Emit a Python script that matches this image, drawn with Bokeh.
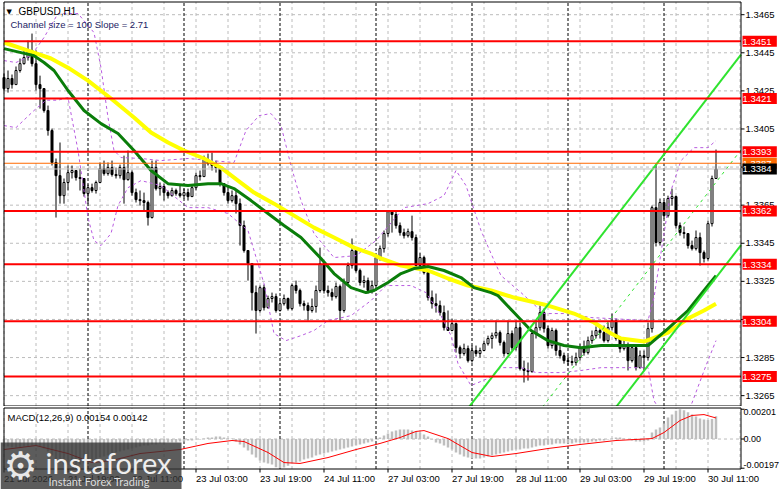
from bokeh.plotting import figure
from bokeh.models import Range1d, Label, BoxAnnotation, ColumnDataSource
from bokeh.layouts import column
from bokeh.core.properties import value
from bokeh.embed import file_html
from bokeh.resources import INLINE

# ---------------- data ----------------
symbol_title = "GBPUSD,H1"
channel_text = "Channel size = 100 Slope = 2.71"
macd_text = "MACD(12,26,9) 0.00154 0.00142"

first_open = 1.34320
closes = [
    1.34262, 1.34315, 1.34283, 1.34357, 1.34393, 1.34425, 1.34462, 1.34393, 1.34283, 1.34262,
    1.34147, 1.34042, 1.33874, 1.33805, 1.33700, 1.33769, 1.33821, 1.33832, 1.33795, 1.33790,
    1.33711, 1.33742, 1.33727, 1.33769, 1.33842, 1.33816, 1.33847, 1.33811, 1.33805, 1.33847,
    1.33784, 1.33821, 1.33716, 1.33679, 1.33674, 1.33664, 1.33585, 1.33847, 1.33737, 1.33748,
    1.33716, 1.33700, 1.33727, 1.33711, 1.33700, 1.33716, 1.33695, 1.33742, 1.33805, 1.33800,
    1.33889, 1.33868, 1.33858, 1.33847, 1.33763, 1.33716, 1.33674, 1.33700, 1.33658, 1.33543,
    1.33412, 1.33343, 1.33191, 1.33097, 1.33217, 1.33112, 1.33160, 1.33170, 1.33097, 1.33133,
    1.33160, 1.33107, 1.33228, 1.33202, 1.33133, 1.33123, 1.33097, 1.33118, 1.33202, 1.33343,
    1.33202, 1.33191, 1.33170, 1.33223, 1.33097, 1.33244, 1.33333, 1.33412, 1.33307, 1.33244,
    1.33254, 1.33202, 1.33228, 1.33375, 1.33422, 1.33501, 1.33616, 1.33601, 1.33543, 1.33506,
    1.33490, 1.33511, 1.33480, 1.33333, 1.33375, 1.33296, 1.33165, 1.33133, 1.33123, 1.33086,
    1.33007, 1.32992, 1.33028, 1.32902, 1.32871, 1.32897, 1.32834, 1.32887, 1.32871, 1.32887,
    1.32923, 1.32950, 1.32965, 1.32981, 1.32929, 1.32871, 1.32976, 1.32902, 1.33007, 1.32792,
    1.32782, 1.32776, 1.32976, 1.33007, 1.33086, 1.33002, 1.32913, 1.32992, 1.32887, 1.32860,
    1.32834, 1.32829, 1.32824, 1.32850, 1.32902, 1.32876, 1.32939, 1.32965, 1.32992, 1.32981,
    1.32939, 1.33007, 1.33044, 1.32950, 1.32897, 1.32918, 1.32834, 1.32902, 1.32797, 1.32860,
    1.32850, 1.33002, 1.33637, 1.33454, 1.33664, 1.33595, 1.33685, 1.33695, 1.33543, 1.33506,
    1.33501, 1.33438, 1.33422, 1.33480, 1.33401, 1.33370, 1.33553, 1.33790, 1.33840]
highs = [
    1.34341, 1.34357, 1.34336, 1.34378, 1.34420, 1.34462, 1.34514, 1.34551, 1.34462, 1.34330,
    1.34225, 1.34173, 1.34052, 1.33895, 1.33979, 1.33790, 1.33858, 1.33858, 1.33832, 1.33842,
    1.33790, 1.33758, 1.33763, 1.33779, 1.33874, 1.33884, 1.33874, 1.33884, 1.33847, 1.33863,
    1.33910, 1.33937, 1.33832, 1.33737, 1.33727, 1.33716, 1.33674, 1.33884, 1.33884, 1.33769,
    1.33763, 1.33727, 1.33742, 1.33737, 1.33753, 1.33737, 1.33737, 1.33758, 1.33821, 1.33832,
    1.33910, 1.33921, 1.33926, 1.33884, 1.33858, 1.33763, 1.33748, 1.33727, 1.33727, 1.33685,
    1.33569, 1.33412, 1.33333, 1.33228, 1.33228, 1.33233, 1.33175, 1.33191, 1.33186, 1.33149,
    1.33181, 1.33165, 1.33238, 1.33254, 1.33212, 1.33149, 1.33139, 1.33160, 1.33228, 1.33427,
    1.33349, 1.33228, 1.33212, 1.33244, 1.33233, 1.33265, 1.33349, 1.33475, 1.33422, 1.33317,
    1.33280, 1.33270, 1.33254, 1.33385, 1.33438, 1.33517, 1.33622, 1.33622, 1.33622, 1.33559,
    1.33527, 1.33527, 1.33595, 1.33496, 1.33401, 1.33385, 1.33296, 1.33202, 1.33186, 1.33149,
    1.33123, 1.33097, 1.33055, 1.33034, 1.32913, 1.32923, 1.32913, 1.32913, 1.32913, 1.32902,
    1.32939, 1.32965, 1.32981, 1.33044, 1.32992, 1.32939, 1.33044, 1.32992, 1.33044, 1.33034,
    1.32834, 1.32824, 1.32992, 1.33044, 1.33123, 1.33107, 1.33018, 1.33007, 1.33002, 1.32913,
    1.32876, 1.32860, 1.32860, 1.32876, 1.32923, 1.32939, 1.32960, 1.32992, 1.33013, 1.33018,
    1.33018, 1.33034, 1.33081, 1.33055, 1.32960, 1.32950, 1.32929, 1.32918, 1.32913, 1.32887,
    1.32887, 1.33034, 1.33648, 1.33868, 1.33685, 1.33674, 1.33700, 1.33737, 1.33700, 1.33559,
    1.33538, 1.33490, 1.33464, 1.33517, 1.33506, 1.33412, 1.33569, 1.33805, 1.33942]
lows = [
    1.34252, 1.34241, 1.34262, 1.34283, 1.34346, 1.34388, 1.34409, 1.34378, 1.34252, 1.34157,
    1.34136, 1.34015, 1.33858, 1.33585, 1.33658, 1.33658, 1.33727, 1.33790, 1.33779, 1.33727,
    1.33695, 1.33658, 1.33716, 1.33711, 1.33769, 1.33805, 1.33805, 1.33800, 1.33790, 1.33790,
    1.33658, 1.33779, 1.33700, 1.33664, 1.33648, 1.33622, 1.33543, 1.33580, 1.33727, 1.33700,
    1.33674, 1.33685, 1.33695, 1.33700, 1.33690, 1.33685, 1.33674, 1.33695, 1.33727, 1.33779,
    1.33800, 1.33858, 1.33832, 1.33821, 1.33748, 1.33700, 1.33658, 1.33664, 1.33606, 1.33438,
    1.33401, 1.33254, 1.33097, 1.32976, 1.33086, 1.33097, 1.33107, 1.33139, 1.33086, 1.33091,
    1.33123, 1.33097, 1.33097, 1.33186, 1.33118, 1.33097, 1.33044, 1.33086, 1.33086, 1.33191,
    1.33186, 1.33170, 1.33149, 1.33160, 1.33044, 1.33086, 1.33233, 1.33317, 1.33296, 1.33228,
    1.33217, 1.33186, 1.33186, 1.33202, 1.33359, 1.33401, 1.33485, 1.33506, 1.33527, 1.33490,
    1.33475, 1.33480, 1.33464, 1.33317, 1.33307, 1.33286, 1.33149, 1.33107, 1.33086, 1.33070,
    1.32992, 1.32992, 1.33002, 1.32876, 1.32845, 1.32860, 1.32824, 1.32824, 1.32855, 1.32850,
    1.32887, 1.32913, 1.32897, 1.32950, 1.32913, 1.32855, 1.32866, 1.32887, 1.32887, 1.32782,
    1.32719, 1.32729, 1.32771, 1.32950, 1.32992, 1.32981, 1.32897, 1.32897, 1.32860, 1.32845,
    1.32818, 1.32808, 1.32808, 1.32808, 1.32834, 1.32860, 1.32866, 1.32923, 1.32950, 1.32950,
    1.32929, 1.32929, 1.32992, 1.32939, 1.32876, 1.32887, 1.32782, 1.32824, 1.32782, 1.32792,
    1.32782, 1.32834, 1.32981, 1.33433, 1.33438, 1.33580, 1.33585, 1.33648, 1.33527, 1.33490,
    1.33475, 1.33422, 1.33412, 1.33412, 1.33333, 1.33349, 1.33359, 1.33538, 1.33790]

# moving averages (bar index, price)
green_bars = [0, 4.25, 7.5, 10, 12.5, 16, 20, 24.25, 28.5, 32.5, 36.75, 41, 46, 51, 54.25,
              57.5, 61.75, 66, 70, 74.25, 79.25, 82.5, 86.75, 90.5, 92.5, 96, 99.25, 102.5,
              106, 110, 114.25, 117.5, 121.75, 123.5, 127.5, 131.75, 136, 140, 144.25,
              149.25, 161, 166, 171, 175, 178]
green_vals = [1.34472, 1.34451, 1.34435, 1.34399, 1.34357, 1.34252, 1.34147, 1.34078, 1.34026,
              1.33937, 1.33832, 1.33763, 1.33753, 1.33763, 1.33763, 1.33737, 1.33674, 1.33606,
              1.33543, 1.33480, 1.33370, 1.33291, 1.33217, 1.33191, 1.33202, 1.33244, 1.33291,
              1.33317, 1.33328, 1.33307, 1.33270, 1.33217, 1.33191, 1.33175, 1.33086, 1.32992,
              1.32939, 1.32913, 1.32902, 1.32913, 1.32913, 1.33002, 1.33097, 1.33202, 1.33280]
yellow_bars = [0, 7.5, 11.75, 16, 21, 26.75, 32.5, 36.75, 41, 45, 50, 54.25, 58.5, 62.5, 67.5,
               72.5, 77.5, 82.5, 87.5, 91.75, 94.25, 99.25, 106, 111, 116, 121.75, 127.5, 136,
               142.5, 147.5, 151.75, 154.25, 160, 166, 171, 175, 178]
yellow_vals = [1.34504, 1.34451, 1.34420, 1.34372, 1.34304, 1.34210, 1.34110, 1.34031, 1.33979,
               1.33937, 1.33895, 1.33847, 1.33779, 1.33716, 1.33658, 1.33595, 1.33532, 1.33480,
               1.33427, 1.33396, 1.33370, 1.33333, 1.33307, 1.33265, 1.33228, 1.33202, 1.33165,
               1.33123, 1.33081, 1.33034, 1.32976, 1.32950, 1.32934, 1.32981, 1.33055, 1.33097,
               1.33133]
# envelope bands (dashed violet)
ub_bars = [0, 3, 6.75, 10, 13.5, 18.5, 22.5, 24.25, 26, 27.5, 29.25, 34.25, 39.25, 46, 51.75,
           57.5, 60.5, 63.75, 66.75, 69.25, 71.75, 74.25, 77.5, 82.5, 88, 93, 100, 106, 110,
           113, 115.5, 119.25, 121.75, 124.25, 129.25, 135, 141, 146.75, 161, 162.5, 165,
           166.75, 169.25, 172.5, 176, 178]
ub_vals = [1.34409, 1.34399, 1.34435, 1.34530, 1.34656, 1.34656, 1.34556, 1.34372, 1.34110,
           1.33937, 1.33900, 1.33895, 1.33884, 1.33895, 1.33884, 1.33874, 1.34042, 1.34120,
           1.34131, 1.34068, 1.33858, 1.33674, 1.33501, 1.33375, 1.33385, 1.33464, 1.33637,
           1.33658, 1.33700, 1.33832, 1.33753, 1.33517, 1.33396, 1.33280, 1.33191, 1.33081,
           1.33081, 1.33060, 1.33044, 1.33165, 1.33501, 1.33727, 1.33884, 1.33952, 1.33952,
           1.33989]
lb_bars = [0, 3, 7.5, 10.5, 13.5, 16, 18.5, 21, 22.5, 24.25, 26.75, 28.5, 31, 34.25, 39.25, 46,
           51, 56, 61, 65, 67.5, 70.5, 74.25, 77.5, 81, 86.75, 91.75, 95.5, 101.75, 105.5,
           109.25, 111.75, 113.5, 116.75, 121, 124.25, 129.25, 133, 139.25, 144.25, 149.25,
           161, 162.5, 165.5, 171.75, 175.5, 178]
lb_vals = [1.34068, 1.34057, 1.34147, 1.34201, 1.34201, 1.34215, 1.33937, 1.33585, 1.33464,
           1.33438, 1.33501, 1.33648, 1.33742, 1.33779, 1.33753, 1.33637, 1.33637, 1.33606,
           1.33517, 1.33238, 1.32976, 1.32939, 1.32965, 1.32992, 1.33044, 1.33070, 1.33149,
           1.33228, 1.33228, 1.33191, 1.33070, 1.32965, 1.32818, 1.32703, 1.32740, 1.32797,
           1.32797, 1.32771, 1.32771, 1.32782, 1.32797, 1.32797, 1.32624, 1.32519, 1.32598,
           1.32808, 1.32939]

# regression channel (100 bars)
chan_start_bar, chan_end_bar = 79, 178
chan_mid_start, chan_mid_end = 1.31077, 1.33770
chan_half = 0.0050

levels = [1.3451, 1.3421, 1.3393, 1.3362, 1.3334, 1.3304, 1.3275]
orange_level = 1.3387
bid_level = 1.3384
price_ticks = [1.3265, 1.3285, 1.3305, 1.3325, 1.3345, 1.3365, 1.3385, 1.3405, 1.3425,
               1.3445, 1.3465]

macd_hist = [
    -0.00051, -0.00051, -0.00057, -0.00057, -0.00057, -0.00051, -0.00051, -0.00044, -0.00044,
    -0.00051, -0.00064,
    -0.00084, -0.00111, -0.00138, -0.00159, -0.00172, -0.00179, -0.00179, -0.00179, -0.00172,
    -0.00165, -0.00159, -0.00145, -0.00138, -0.00125, -0.00118, -0.00111, -0.00098, -0.00091,
    -0.00084, -0.00078, -0.00071, -0.00064, -0.00057, -0.00051, -0.00044, -0.00044, -0.00037,
    -0.00037, -0.00030, -0.00030, -0.00024, -0.00024, -0.00024, -0.00017,
    -0.00017, -0.00010, -0.00010, -0.00003, -0.00003, 0.00003, 0.00010, 0.00010, 0.00017,
    0.00017, 0.00010, 0.00003, 0.00003,
    -0.00017, -0.00037, -0.00057, -0.00078, -0.00105, -0.00125, -0.00145, -0.00159, -0.00165,
    -0.00172,
    -0.00190, -0.00197, -0.00193, -0.00180, -0.00165, -0.00159, -0.00152, -0.00138, -0.00132,
    -0.00125,
    -0.00111, -0.00105, -0.00098, -0.00091, -0.00084, -0.00078, -0.00071, -0.00064, -0.00057,
    -0.00051,
    -0.00044, -0.00037, -0.00030, -0.00024, -0.00017, -0.00003, 0.00010, 0.00024, 0.00037,
    0.00051,
    0.00057, 0.00064, 0.00064, 0.00064, 0.00057, 0.00051, 0.00044, 0.00030, 0.00017, -0.00003,
    -0.00024, -0.00030, -0.00044, -0.00057, -0.00071, -0.00091, -0.00105, -0.00118, -0.00125,
    -0.00132,
    -0.00132, -0.00132, -0.00125, -0.00118, -0.00111, -0.00105, -0.00098, -0.00091, -0.00084,
    -0.00078,
    -0.00071, -0.00071, -0.00064, -0.00064, -0.00057, -0.00051, -0.00044, -0.00044, -0.00037,
    -0.00037,
    -0.00030, -0.00030, -0.00030, -0.00030, -0.00030, -0.00024, -0.00024, -0.00024, -0.00024,
    -0.00017,
    -0.00017, -0.00010, -0.00010, -0.00003, 0.00003, 0.00010, 0.00010, 0.00003, -0.00003,
    -0.00010,
    -0.00017, -0.00017, -0.00017, -0.00010, 0.00044, 0.00064, 0.00078, 0.00105, 0.00145,
    0.00165, 0.00190, 0.00201, 0.00195, 0.00180, 0.00165, 0.00152, 0.00138, 0.00132, 0.00128,
    0.00135, 0.00154]
sig_bars = [0, 8, 16, 22, 27, 34, 44, 51, 57, 60, 66, 70, 74, 81, 88, 94, 99, 103, 105, 111,
            117, 122, 128, 136, 144, 153, 158, 162, 165, 169, 172, 175, 178]
sig_vals = [-0.00071, -0.00044, -0.00098, -0.00159, -0.00145, -0.00098, -0.00071, -0.00030,
            -0.00010, -0.00017, -0.00091, -0.00159, -0.00165, -0.00125, -0.00071, -0.00030,
            0.00010, 0.00051, 0.00057, 0.00003, -0.00091, -0.00118, -0.00098, -0.00064,
            -0.00037, -0.00010, -0.00003, 0.00003, 0.00044, 0.00125, 0.00159, 0.00165, 0.00142]
macd_ticks = [0.00201, 0.0, -0.00197]
macd_tick_labels = ["0.00201", "0.00", "-0.00197"]

time_label_bars = [0, 16, 32, 48, 64, 80, 96, 112, 128, 144, 160, 176]
time_labels = ["21 Jul 2026", "21 Jul 19:00", "22 Jul 11:00", "23 Jul 03:00", "23 Jul 19:00",
               "24 Jul 11:00", "27 Jul 03:00", "27 Jul 19:00", "28 Jul 11:00", "29 Jul 03:00",
               "29 Jul 19:00", "30 Jul 11:00"]
day_sep_bars = [21, 45, 69, 93, 117, 141, 165]
grid_step = 8

# ---------------- layout constants (pixel geometry of the terminal window) ----------------
FONT = "Liberation Sans"
FS = "9.5px"
MAIN_TOP, MAIN_PX = 1.34714, 0.0000525      # price at px 2, price per px
MACD_TOP, MACD_PX = 0.00206, 0.0000675      # value at px 408, value per px
GRID_C = "#BCBCBC"


def bar_x(px):
    return (px - 3.5) / 4.0


def main_y(px):
    return MAIN_TOP - (px - 2) * MAIN_PX


def macd_y(px):
    return MACD_TOP - (px - 408) * MACD_PX


L, R = bar_x(3.5), bar_x(740.5)
T, B = main_y(1.5), main_y(405.5)
MT, MB = macd_y(407.5), macd_y(468.5)

xr = Range1d(bar_x(0), bar_x(781))


def make_fig(h, y0, y1):
    f = figure(frame_width=781, frame_height=h, x_range=xr, y_range=Range1d(y0, y1),
               output_backend="svg", toolbar_location=None, title=None,
               x_axis_location=None, y_axis_location=None, min_border=0,
               outline_line_color=None, background_fill_color="white",
               border_fill_color="white")
    f.grid.visible = False
    return f


p = make_fig(406, main_y(406), main_y(0))

# grid
grid_bars = list(range(0, 185, grid_step))
p.segment(x0=[L] * len(price_ticks), x1=[R] * len(price_ticks), y0=price_ticks, y1=price_ticks,
          line_color=GRID_C, line_dash="3 3", line_width=1)
p.segment(x0=grid_bars, x1=grid_bars, y0=[B] * len(grid_bars), y1=[T] * len(grid_bars),
          line_color=GRID_C, line_dash="3 3", line_width=1)
p.segment(x0=day_sep_bars, x1=day_sep_bars, y0=[B] * len(day_sep_bars),
          y1=[T] * len(day_sep_bars), line_color="black", line_dash="3 2", line_width=1)

# candles
n = len(closes)
bars = list(range(n))
opens = [first_open] + closes[:-1]
tops = [max(o, c) for o, c in zip(opens, closes)]
bots = [min(o, c) for o, c in zip(opens, closes)]
his = [max(h, t) for h, t in zip(highs, tops)]
los = [min(l, b) for l, b in zip(lows, bots)]
fills = ["white" if c >= o else "black" for o, c in zip(opens, closes)]
src = ColumnDataSource(dict(x=bars, top=tops, bottom=bots, hi=his, lo=los, fill=fills))
p.segment(x0="x", y0="lo", x1="x", y1="hi", source=src, line_color="black", line_width=1)
p.vbar(x="x", width=0.5, top="top", bottom="bottom", fill_color="fill",
       line_color="black", line_width=1, source=src)

# bands and averages
p.line(ub_bars, ub_vals, line_color="#B85CE0", line_dash="3 3", line_width=1)
p.line(lb_bars, lb_vals, line_color="#B85CE0", line_dash="3 3", line_width=1)
p.line(yellow_bars, yellow_vals, line_color="#FFFF00", line_width=4, line_join="round")
p.line(green_bars, green_vals, line_color="#0A7D0A", line_width=3, line_join="round")

# regression channel, extended to the right edge of the panel
slope = (chan_mid_end - chan_mid_start) / (chan_end_bar - chan_start_bar)
mid_right = chan_mid_end + slope * (R - chan_end_bar)
cx = [chan_start_bar, R]
LIME = "#2FE32F"
p.line(cx, [chan_mid_start + chan_half, mid_right + chan_half], line_color=LIME, line_width=2)
p.line(cx, [chan_mid_start - chan_half, mid_right - chan_half], line_color=LIME, line_width=2)
p.line(cx, [chan_mid_start, mid_right], line_color=LIME, line_width=1, line_dash="3 4")

# horizontal levels
p.segment(x0=[L] * len(levels), x1=[R] * len(levels), y0=levels, y1=levels,
          line_color="#FF0000", line_width=2)
p.segment(x0=[L], x1=[R], y0=[orange_level], y1=[orange_level], line_color="#FF6A00",
          line_width=1)
p.segment(x0=[L], x1=[R], y0=[bid_level], y1=[bid_level], line_color="#C0C0C0", line_width=1)

# panel border
p.add_layout(BoxAnnotation(left=L, right=R, top=T, bottom=B, fill_color=None,
                           line_color="black", line_alpha=1, line_width=1, level="overlay"))

# right price scale
p.segment(x0=[R] * len(price_ticks), x1=[bar_x(744)] * len(price_ticks), y0=price_ticks,
          y1=price_ticks, line_color="black", line_width=1)
p.text(x=[bar_x(745)] * len(price_ticks), y=price_ticks,
       text=["%.4f" % t for t in price_ticks], text_font=value(FONT),
       text_font_size=value(FS), text_baseline="middle", text_align="left",
       text_color="black")


def price_box(fig_, val, bg):
    fig_.add_layout(Label(x=bar_x(742), y=val, text=" %.4f " % val,
                          text_color="white", text_font=FONT, text_font_size=FS,
                          text_baseline="middle", text_align="left",
                          background_fill_color=bg, level="overlay"))


for lv in levels:
    price_box(p, lv, "#FF0000")
price_box(p, orange_level, "#FF6A00")
price_box(p, bid_level, "black")

# top-left texts
p.add_layout(Label(x=bar_x(6), y=main_y(11), text="\u25BC", text_font="DejaVu Sans",
                   text_font_size="7px", text_baseline="middle", text_color="black"))
p.add_layout(Label(x=bar_x(18), y=main_y(10.5), text=symbol_title, text_font=FONT,
                   text_font_size="10px", text_baseline="middle", text_color="black"))
p.add_layout(Label(x=bar_x(10), y=main_y(24), text=channel_text, text_font=FONT,
                   text_font_size=FS, text_baseline="middle", text_color="#1C1C64"))

# ---------------- MACD panel ----------------
p2 = make_fig(83, macd_y(489), macd_y(406))

p2.segment(x0=[L], x1=[R], y0=[0], y1=[0], line_color=GRID_C, line_dash="3 3", line_width=1)
p2.segment(x0=grid_bars, x1=grid_bars, y0=[MB] * len(grid_bars), y1=[MT] * len(grid_bars),
           line_color=GRID_C, line_dash="3 3", line_width=1)
p2.segment(x0=day_sep_bars, x1=day_sep_bars, y0=[MB] * len(day_sep_bars),
           y1=[MT] * len(day_sep_bars), line_color="black", line_dash="3 2", line_width=1)

p2.vbar(x=list(range(len(macd_hist))), top=macd_hist, bottom=0, width=0.62,
        fill_color="#BEBEBE", line_color=None)
p2.line(sig_bars, sig_vals, line_color="#FF0000", line_width=1)

p2.add_layout(BoxAnnotation(left=L, right=R, top=MT, bottom=MB, fill_color=None,
                            line_color="black", line_alpha=1, line_width=1, level="overlay"))

# scale ticks
p2.segment(x0=[R] * len(macd_ticks), x1=[bar_x(744)] * len(macd_ticks), y0=macd_ticks,
           y1=macd_ticks, line_color="black", line_width=1)
for t, lab, bl in zip(macd_ticks, macd_tick_labels, ["top", "middle", "bottom"]):
    p2.add_layout(Label(x=bar_x(743), y=t, text=lab, text_font=FONT, text_font_size="9px",
                        text_baseline=bl, text_color="black"))

p2.segment(x0=time_label_bars, x1=time_label_bars, y0=[MB] * len(time_label_bars),
           y1=[macd_y(472)] * len(time_label_bars), line_color="black", line_width=1)
p2.text(x=time_label_bars, y=[macd_y(478)] * len(time_label_bars), text=time_labels,
        text_font=value(FONT), text_font_size=value(FS), text_baseline="middle",
        text_align="left", text_color="black")

p2.add_layout(Label(x=bar_x(7), y=macd_y(417), text=macd_text, text_font=FONT,
                    text_font_size=FS, text_baseline="middle", text_color="black"))

# logo overlay
p2.add_layout(BoxAnnotation(left=bar_x(0), right=bar_x(181), top=macd_y(442),
                            bottom=macd_y(490), fill_color="#333333", fill_alpha=0.8,
                            line_alpha=0, level="overlay"))
p2.add_layout(Label(x=bar_x(3), y=macd_y(465), text="\u2699", text_font="DejaVu Sans",
                    text_font_size="38px", text_baseline="middle", text_color="#E8E8E8",
                    level="overlay"))
p2.add_layout(Label(x=bar_x(45), y=macd_y(462), text="instaforex", text_font="Lato",
                    text_font_size="29px", text_baseline="middle", text_color="#EEEEEE",
                    level="overlay"))
p2.add_layout(Label(x=bar_x(48), y=macd_y(481), text="Instant Forex Trading",
                    text_font="Lato", text_font_size="11px", text_baseline="middle",
                    text_color="#DDDDDD", level="overlay"))

layout = column(p, p2)
open("out.html", "w").write(file_html(layout, INLINE, title="GBPUSD,H1"))
